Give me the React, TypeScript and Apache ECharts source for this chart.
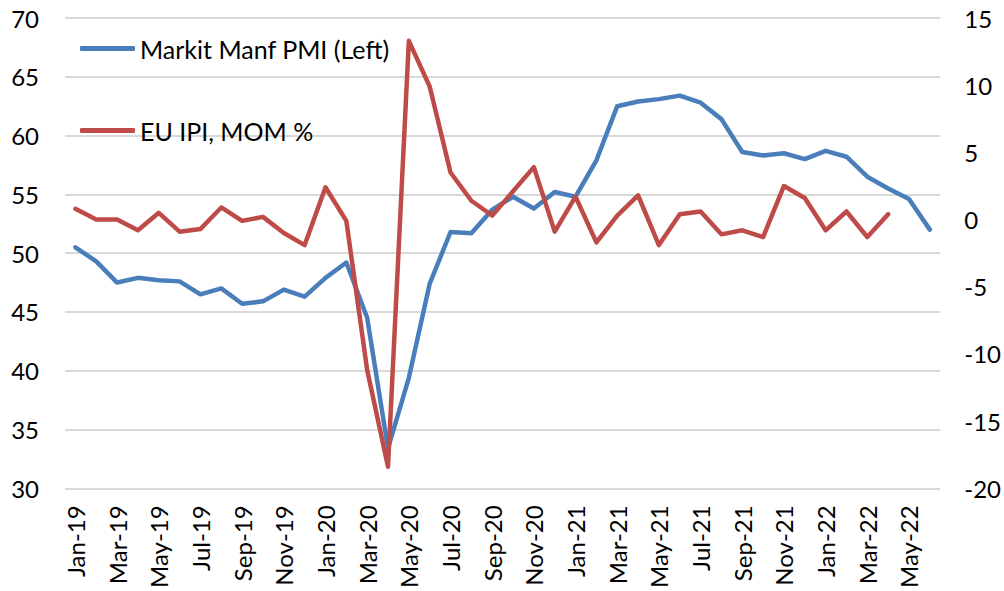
import React, { useEffect, useRef } from "react";
import * as echarts from "echarts";

const months = [
  "Jan-19","Feb-19","Mar-19","Apr-19","May-19","Jun-19","Jul-19","Aug-19","Sep-19","Oct-19","Nov-19","Dec-19",
  "Jan-20","Feb-20","Mar-20","Apr-20","May-20","Jun-20","Jul-20","Aug-20","Sep-20","Oct-20","Nov-20","Dec-20",
  "Jan-21","Feb-21","Mar-21","Apr-21","May-21","Jun-21","Jul-21","Aug-21","Sep-21","Oct-21","Nov-21","Dec-21",
  "Jan-22","Feb-22","Mar-22","Apr-22","May-22","Jun-22",
];

const pmi = [
  50.5, 49.3, 47.5, 47.9, 47.7, 47.6, 46.5, 47.0, 45.7, 45.9, 46.9, 46.3,
  47.9, 49.2, 44.5, 33.4, 39.4, 47.4, 51.8, 51.7, 53.7, 54.8, 53.8, 55.2,
  54.8, 57.9, 62.5, 62.9, 63.1, 63.4, 62.8, 61.4, 58.6, 58.3, 58.5, 58.0,
  58.7, 58.2, 56.5, 55.5, 54.6, 52.0,
];

const ipi: (number | null)[] = [
  0.8, 0.0, 0.0, -0.8, 0.5, -0.9, -0.7, 0.9, -0.1, 0.2, -1.0, -1.9,
  2.4, -0.1, -11.2, -18.4, 13.3, 9.9, 3.5, 1.4, 0.3, 2.1, 3.9, -0.9,
  1.7, -1.7, 0.3, 1.8, -1.9, 0.4, 0.6, -1.1, -0.8, -1.3, 2.5, 1.6,
  -0.8, 0.6, -1.3, 0.4, null, null,
];

const FONT = "Lato, 'Open Sans', sans-serif";

export default function App() {
  const ref = useRef<HTMLDivElement>(null);
  useEffect(() => {
    if (!ref.current) return;
    const chart = echarts.init(ref.current, undefined, { renderer: "svg" });
    chart.setOption({
      animation: false,
      backgroundColor: "#ffffff",
      textStyle: { fontFamily: FONT },
      grid: { left: 65, right: 60, top: 18, bottom: 100, containLabel: false },
      legend: {
        orient: "vertical",
        left: 80,
        top: 36,
        padding: 0,
        itemGap: 57,
        itemWidth: 55,
        itemHeight: 5,
        icon: "roundRect",
        textStyle: { fontSize: 25, color: "#000", fontFamily: FONT },
        data: ["Markit Manf PMI (Left)", "EU IPI, MOM %"],
      },
      xAxis: {
        type: "category",
        data: months,
        boundaryGap: true,
        axisLine: { show: false },
        axisTick: { show: false },
        axisLabel: {
          interval: 1,
          rotate: 90,
          fontSize: 24,
          color: "#000",
          margin: 17,
          fontFamily: FONT,
        },
      },
      yAxis: [
        {
          type: "value",
          min: 30,
          max: 70,
          interval: 5,
          axisLine: { show: false },
          axisTick: { show: false },
          axisLabel: { fontSize: 24, color: "#000", margin: 26, fontFamily: FONT },
          splitLine: { lineStyle: { color: "#d9d9d9", width: 2 } },
        },
        {
          type: "value",
          min: -20,
          max: 15,
          interval: 5,
          position: "right",
          axisLine: { show: false },
          axisTick: { show: false },
          axisLabel: { fontSize: 24, color: "#000", margin: 24, fontFamily: FONT },
          splitLine: { show: false },
        },
      ],
      series: [
        {
          name: "Markit Manf PMI (Left)",
          type: "line",
          yAxisIndex: 0,
          data: pmi,
          showSymbol: false,
          symbol: "none",
          lineStyle: { color: "#4a7ebb", width: 4.5, cap: "round", join: "round" },
          itemStyle: { color: "#4a7ebb" },
        },
        {
          name: "EU IPI, MOM %",
          type: "line",
          yAxisIndex: 1,
          data: ipi,
          showSymbol: false,
          symbol: "none",
          lineStyle: { color: "#be4b48", width: 4.5, cap: "round", join: "round" },
          itemStyle: { color: "#be4b48" },
        },
      ],
    });
    return () => chart.dispose();
  }, []);
  return <div ref={ref} style={{ width: 1004, height: 591, position: "absolute", left: 0, top: 0 }} />;
}
